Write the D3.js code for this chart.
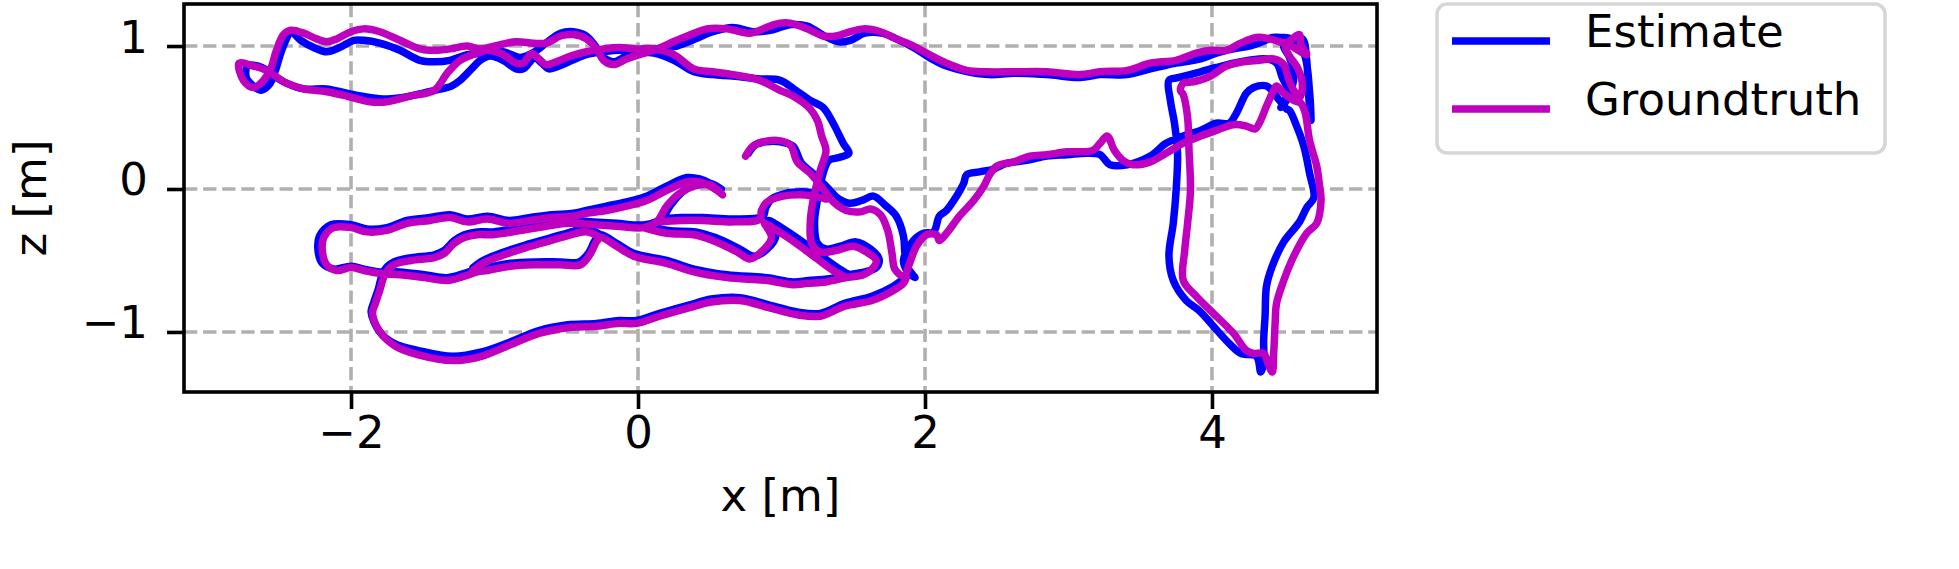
<!DOCTYPE html>
<html>

<head>
  <meta charset="utf-8">
  <title>trajectory x-z</title>
  <script src="https://cdn.jsdelivr.net/npm/d3@7/dist/d3.min.js"></script>
  <style>
    body {
      margin: 0;
      background: white;
    }

    text {
      font-family: "DejaVu Sans", sans-serif;
      font-size: 45px;
      fill: black;
    }

    .tick line {
      stroke: black;
      stroke-width: 3.6px;
    }

    .grid line {
      stroke: #b0b0b0;
      stroke-width: 3.6px;
      stroke-dasharray: 13.3 5.8;
    }

    path.traj {
      fill: none;
      stroke-width: 7.5px;
      stroke-linejoin: round;
      stroke-linecap: round;
    }
  </style>
</head>

<body>
  <svg id="chart"></svg>
  <script>
    // values, x and z in metres; null breaks a stroke
    var xTicks = [-2, 0, 2, 4];
    var zTicks = [-1, 0, 1];
    var seriesNames = ['Estimate', 'Groundtruth'];

    var estimate = [
      [0.77, 0.25], [0.82, 0.31], [0.89, 0.33], [0.99, 0.33], [1.08, 0.30], [1.14, 0.18], [1.23, 0.10],
      [1.32, 0.01], [1.40, -0.07], [1.48, -0.10], [1.56, -0.08], [1.64, -0.05], [1.73, -0.12], [1.80, -0.19],
      [1.85, -0.33], [1.86, -0.45], [1.88, -0.55], [1.93, -0.62], [1.88, -0.58], [1.85, -0.50],
      [1.92, -0.36], [1.99, -0.31], [2.06, -0.30], [2.10, -0.19], [2.15, -0.15], [2.22, -0.05], [2.27, 0.04],
      [2.29, 0.10], [2.38, 0.12], [2.48, 0.14], [2.57, 0.18], [2.71, 0.20], [2.85, 0.23], [2.99, 0.24],
      [3.13, 0.25], [3.22, 0.24], [3.29, 0.17], [3.41, 0.17], [3.57, 0.23], [3.68, 0.32], [3.80, 0.37],
      [3.92, 0.41], [4.03, 0.46], [4.12, 0.46], [4.17, 0.53], [4.24, 0.67], [4.29, 0.71], [4.38, 0.72],
      [4.47, 0.62], [4.52, 0.56],
      [4.54, 0.55], [4.59, 0.44], [4.64, 0.30], [4.68, 0.11], [4.71, -0.06], [4.66, -0.13], [4.61, -0.23],
      [4.50, -0.37], [4.42, -0.54], [4.38, -0.68], [4.37, -0.89], [4.36, -1.06], [4.36, -1.22], [4.34, -1.28],
      [4.31, -1.17], [4.20, -1.15], [4.10, -1.06], [4.01, -0.96], [3.91, -0.85], [3.82, -0.78], [3.73, -0.64],
      [3.70, -0.47], [3.73, -0.24], [3.75, -0.01], [3.76, 0.25], [3.74, 0.45], [3.71, 0.62], [3.70, 0.76],
      [3.77, 0.78], [3.92, 0.82], [4.03, 0.85], [4.15, 0.88], [4.26, 0.90], [4.38, 0.91],
      [4.45, 0.88], [4.49, 0.78], [4.53, 0.68], [4.48, 0.57], [4.53, 0.64], [4.57, 0.78], [4.54, 0.92],
      [4.50, 1.00], [4.56, 1.05], [4.63, 1.05], [4.66, 0.90], [4.67, 0.70], [4.69, 0.48], [4.68, 0.68],
      [4.64, 0.95], [4.55, 1.05],
      [4.49, 1.06], [4.42, 1.06], [4.35, 1.03], [4.26, 1.00], [4.15, 0.98], [4.03, 0.95], [3.92, 0.91],
      [3.75, 0.88], [3.57, 0.84], [3.41, 0.80], [3.22, 0.80], [3.08, 0.78], [2.85, 0.80], [2.62, 0.81],
      [2.45, 0.80], [2.30, 0.82], [2.15, 0.86], [2.03, 0.92], [1.92, 0.99], [1.80, 1.05], [1.70, 1.09],
      [1.58, 1.09], [1.48, 1.04], [1.40, 1.03], [1.30, 1.07], [1.18, 1.14], [1.07, 1.15], [0.99, 1.13],
      [0.92, 1.11], [0.80, 1.10], [0.66, 1.13], [0.52, 1.10], [0.40, 1.05], [0.27, 1.00], [0.12, 0.98],
      [0.02, 0.96], [-0.08, 0.93], [-0.17, 0.89], [-0.24, 0.92], [-0.29, 0.99], [-0.36, 1.07], [-0.45, 1.10],
      [-0.54, 1.09], [-0.63, 1.03], [-0.72, 0.96], [-0.82, 0.92], [-0.94, 0.96], [-1.10, 0.95], [-1.19, 0.94],
      [-1.31, 0.90], [-1.42, 0.89], [-1.52, 0.90], [-1.66, 0.97], [-1.80, 1.02], [-1.91, 1.04], [-1.98, 1.04],
      [-2.08, 0.99], [-2.17, 0.96], [-2.26, 0.99], [-2.35, 1.04], [-2.42, 1.10], [-2.45, 1.05], [-2.49, 0.95],
      [-2.53, 0.82], [-2.57, 0.73], [-2.63, 0.69], [-2.68, 0.72], [-2.73, 0.78], [-2.72, 0.86],
      [-2.62, 0.85], [-2.55, 0.80], [-2.45, 0.74], [-2.33, 0.70], [-2.17, 0.70], [-2.03, 0.67], [-1.87, 0.64],
      [-1.75, 0.63], [-1.59, 0.65], [-1.42, 0.69], [-1.30, 0.72], [-1.24, 0.76], [-1.16, 0.84], [-1.10, 0.90],
      [-1.03, 0.93], [-0.94, 0.90], [-0.85, 0.84], [-0.80, 0.84], [-0.76, 0.88], [-0.72, 0.92], [-0.67, 0.88],
      [-0.62, 0.84], [-0.55, 0.86], [-0.46, 0.90], [-0.36, 0.94], [-0.24, 0.96], [-0.13, 0.97], [-0.01, 0.96],
      [0.11, 0.95], [0.25, 0.90], [0.39, 0.82], [0.52, 0.80], [0.66, 0.79], [0.85, 0.77], [0.99, 0.76],
      [1.10, 0.69], [1.20, 0.62], [1.29, 0.57], [1.36, 0.46], [1.43, 0.32], [1.47, 0.25],
      [1.40, 0.22], [1.33, 0.20], [1.29, 0.11], [1.25, -0.08], [1.23, -0.24], [1.25, -0.38], [1.31, -0.42],
      [1.41, -0.40], [1.52, -0.37], [1.62, -0.42], [1.68, -0.49], [1.66, -0.55], [1.58, -0.58], [1.46, -0.60],
      [1.32, -0.63], [1.19, -0.64], [1.08, -0.65], [0.90, -0.62], [0.62, -0.60], [0.39, -0.56], [0.20, -0.50],
      [-0.03, -0.45], [-0.15, -0.38], [-0.26, -0.32], [-0.30, -0.36], [-0.34, -0.44], [-0.41, -0.51],
      [-0.54, -0.51], [-0.71, -0.51], [-0.89, -0.52], [-1.05, -0.55], [-1.12, -0.56], [-1.21, -0.59],
      [-1.33, -0.62], [-1.49, -0.60], [-1.66, -0.58], [-1.80, -0.58], [-1.91, -0.56], [-2.00, -0.54],
      [-2.12, -0.56], [-2.20, -0.52], [-2.23, -0.43], [-2.22, -0.33], [-2.14, -0.25], [-2.00, -0.25],
      [-1.89, -0.28], [-1.75, -0.27], [-1.61, -0.22], [-1.45, -0.20], [-1.31, -0.18], [-1.19, -0.21],
      [-1.05, -0.19], [-0.90, -0.22], [-0.75, -0.20], [-0.60, -0.18], [-0.45, -0.17], [-0.36, -0.15],
      [-0.22, -0.12], [-0.08, -0.09], [0.06, -0.05], [0.20, 0.02], [0.34, 0.08], [0.43, 0.07], [0.52, 0.03],
      [0.58, 0.00], [0.50, 0.04], [0.40, 0.03], [0.31, -0.02], [0.23, -0.11], [0.16, -0.21], [0.05, -0.25],
      [-0.15, -0.24], [-0.31, -0.23], [-0.48, -0.22], [-0.64, -0.24], [-0.82, -0.27], [-1.01, -0.30],
      [-1.12, -0.30], [-1.21, -0.32], [-1.28, -0.36], [-1.35, -0.43], [-1.42, -0.46], [-1.58, -0.48],
      [-1.70, -0.51], [-1.77, -0.57], [-1.81, -0.70], [-1.84, -0.79], [-1.86, -0.86], [-1.80, -1.00],
      [-1.70, -1.08], [-1.53, -1.13], [-1.29, -1.17], [-1.09, -1.14], [-0.89, -1.07], [-0.69, -0.99],
      [-0.49, -0.95], [-0.29, -0.94], [-0.13, -0.92], [-0.01, -0.92], [0.15, -0.87], [0.36, -0.81],
      [0.51, -0.77], [0.71, -0.76], [0.91, -0.81], [1.11, -0.86], [1.27, -0.87], [1.44, -0.80], [1.63, -0.75],
      [1.78, -0.68], [1.86, -0.62], [1.90, -0.58],
      null,
      [0.05, -0.25], [0.21, -0.29], [0.40, -0.30], [0.54, -0.34], [0.71, -0.42], [0.81, -0.47], [0.90, -0.42],
      [0.96, -0.33], [0.93, -0.26], [0.91, -0.22], [1.03, -0.29], [1.16, -0.38], [1.28, -0.47], [1.39, -0.55],
      [1.47, -0.60],
      null,
      [0.16, -0.21], [0.30, -0.20], [0.45, -0.20], [0.67, -0.21], [0.87, -0.19], [0.89, -0.13], [0.93, -0.07],
      [1.03, -0.03], [1.15, -0.02], [1.24, -0.03], [1.33, -0.05],
      null,
      [-1.15, -0.55], [-1.08, -0.50], [-0.96, -0.45], [-0.78, -0.39], [-0.64, -0.35], [-0.50, -0.31],
      [-0.36, -0.28], [-0.26, -0.32]
    ];

    var groundtruth = [
      [0.75, 0.23], [0.80, 0.30], [0.87, 0.33], [0.97, 0.34], [1.06, 0.31], [1.11, 0.19], [1.20, 0.11],
      [1.29, 0.00], [1.36, -0.09], [1.45, -0.15], [1.55, -0.16], [1.62, -0.14], [1.69, -0.18], [1.74, -0.29],
      [1.77, -0.45], [1.79, -0.56], [1.85, -0.61],
      [1.90, -0.50], [1.94, -0.40], [2.01, -0.32], [2.08, -0.32], [2.10, -0.36], [2.15, -0.31], [2.24, -0.19],
      [2.34, -0.08], [2.41, 0.02], [2.45, 0.10], [2.50, 0.16], [2.62, 0.19], [2.73, 0.23], [2.85, 0.24],
      [2.99, 0.26], [3.17, 0.27], [3.22, 0.32], [3.27, 0.37], [3.32, 0.27], [3.38, 0.20], [3.45, 0.17],
      [3.57, 0.19], [3.68, 0.25], [3.80, 0.32], [3.92, 0.37], [4.03, 0.41], [4.15, 0.45], [4.24, 0.44],
      [4.30, 0.42], [4.33, 0.46], [4.38, 0.58], [4.43, 0.69], [4.45, 0.72], [4.50, 0.67], [4.57, 0.62],
      [4.62, 0.60],
      [4.65, 0.53], [4.68, 0.34], [4.73, 0.16], [4.75, 0.02], [4.76, -0.08], [4.73, -0.24], [4.66, -0.31],
      [4.57, -0.47], [4.50, -0.64], [4.45, -0.80], [4.44, -0.94], [4.43, -1.15], [4.42, -1.28], [4.39, -1.22],
      [4.36, -1.15], [4.29, -1.15], [4.24, -1.13], [4.15, -1.01], [4.01, -0.87], [3.89, -0.75], [3.80, -0.64],
      [3.81, -0.43], [3.83, -0.24], [3.85, -0.01], [3.84, 0.27], [3.83, 0.50], [3.80, 0.66], [3.78, 0.69],
      [3.80, 0.74], [3.87, 0.75], [3.99, 0.79], [4.10, 0.86], [4.22, 0.89], [4.33, 0.90], [4.43, 0.91],
      [4.50, 0.87], [4.53, 0.78], [4.57, 0.69], [4.61, 0.64], [4.63, 0.72], [4.60, 0.84], [4.54, 0.93],
      [4.51, 1.00], [4.55, 1.04], [4.61, 1.08], [4.62, 1.01], [4.66, 0.94], [4.60, 0.97], [4.52, 1.02],
      [4.47, 1.03], [4.40, 1.05], [4.31, 1.06], [4.20, 1.02], [4.10, 0.97], [3.99, 0.97], [3.89, 0.95],
      [3.75, 0.90], [3.57, 0.88], [3.41, 0.83], [3.22, 0.82], [3.08, 0.80], [2.85, 0.82], [2.62, 0.82],
      [2.43, 0.82], [2.29, 0.83], [2.15, 0.88], [2.03, 0.94], [1.92, 1.00], [1.80, 1.05], [1.69, 1.10],
      [1.57, 1.12], [1.48, 1.10], [1.38, 1.07], [1.29, 1.07], [1.18, 1.12], [1.06, 1.16], [0.99, 1.16],
      [0.92, 1.14], [0.78, 1.09], [0.62, 1.12], [0.48, 1.12], [0.39, 1.09], [0.27, 1.04], [0.11, 0.97],
      [0.01, 0.94], [-0.08, 0.91], [-0.17, 0.87], [-0.24, 0.90], [-0.29, 0.98], [-0.36, 1.05], [-0.45, 1.08],
      [-0.54, 1.07], [-0.64, 1.02], [-0.73, 1.02], [-0.85, 1.03], [-0.96, 1.01], [-1.10, 0.98], [-1.19, 1.00],
      [-1.31, 0.98], [-1.42, 0.97], [-1.52, 0.98], [-1.66, 1.04], [-1.80, 1.10], [-1.91, 1.12], [-2.00, 1.10],
      [-2.10, 1.05], [-2.17, 1.03], [-2.24, 1.05], [-2.33, 1.09], [-2.42, 1.11], [-2.47, 1.08], [-2.52, 0.97],
      [-2.56, 0.84], [-2.61, 0.76], [-2.68, 0.71], [-2.75, 0.76], [-2.78, 0.88],
      [-2.68, 0.86], [-2.59, 0.83], [-2.45, 0.74], [-2.33, 0.70], [-2.17, 0.68], [-2.03, 0.65], [-1.87, 0.61],
      [-1.75, 0.61], [-1.59, 0.65], [-1.42, 0.69], [-1.33, 0.81], [-1.24, 0.90], [-1.12, 0.95],
      [-1.05, 0.97], [-0.94, 0.94], [-0.85, 0.88], [-0.80, 0.88], [-0.76, 0.93], [-0.74, 0.95], [-0.69, 0.91],
      [-0.64, 0.87], [-0.57, 0.89], [-0.47, 0.93], [-0.36, 0.96], [-0.24, 0.98], [-0.13, 0.99], [-0.01, 0.98],
      [0.11, 0.98], [0.25, 0.94], [0.39, 0.84], [0.52, 0.82], [0.66, 0.80], [0.85, 0.76], [0.99, 0.69],
      [1.08, 0.65], [1.20, 0.56], [1.25, 0.48], [1.28, 0.37], [1.31, 0.27],
      [1.27, 0.13], [1.22, -0.08], [1.20, -0.24], [1.21, -0.38], [1.27, -0.44], [1.38, -0.43], [1.50, -0.40],
      [1.59, -0.44], [1.66, -0.50], [1.64, -0.55], [1.57, -0.60], [1.45, -0.62], [1.31, -0.65], [1.18, -0.66],
      [1.08, -0.67], [0.90, -0.64], [0.62, -0.62], [0.39, -0.58], [0.20, -0.52], [-0.03, -0.47], [-0.15, -0.40],
      [-0.26, -0.34], [-0.29, -0.37], [-0.33, -0.45], [-0.40, -0.53], [-0.54, -0.53], [-0.71, -0.53],
      [-0.89, -0.54], [-1.05, -0.57], [-1.12, -0.58], [-1.21, -0.61], [-1.33, -0.64], [-1.49, -0.62],
      [-1.66, -0.60], [-1.80, -0.59], [-1.91, -0.57], [-2.00, -0.55], [-2.10, -0.57], [-2.17, -0.53],
      [-2.20, -0.43], [-2.19, -0.34], [-2.12, -0.27], [-2.00, -0.27], [-1.89, -0.30], [-1.75, -0.29],
      [-1.61, -0.24], [-1.45, -0.22], [-1.31, -0.20], [-1.19, -0.23], [-1.05, -0.21], [-0.90, -0.24],
      [-0.75, -0.22], [-0.60, -0.20], [-0.45, -0.19], [-0.36, -0.17], [-0.22, -0.15], [-0.08, -0.12],
      [0.06, -0.08], [0.20, -0.01], [0.34, 0.05], [0.43, 0.05], [0.52, 0.01], [0.59, -0.04],
      [0.50, 0.03], [0.39, 0.02], [0.29, -0.03], [0.20, -0.12], [0.13, -0.23], [0.04, -0.27], [-0.15, -0.26],
      [-0.31, -0.25], [-0.48, -0.24], [-0.64, -0.26], [-0.82, -0.29], [-1.01, -0.32], [-1.12, -0.32],
      [-1.21, -0.34], [-1.28, -0.38], [-1.35, -0.45], [-1.42, -0.48], [-1.58, -0.50], [-1.70, -0.53],
      [-1.76, -0.59], [-1.80, -0.71], [-1.83, -0.80], [-1.85, -0.87], [-1.79, -1.01], [-1.69, -1.10],
      [-1.53, -1.16], [-1.29, -1.20], [-1.09, -1.17], [-0.89, -1.09], [-0.69, -1.01], [-0.49, -0.97],
      [-0.29, -0.96], [-0.13, -0.94], [-0.01, -0.94], [0.15, -0.89], [0.36, -0.83], [0.51, -0.79],
      [0.71, -0.78], [0.91, -0.83], [1.11, -0.88], [1.27, -0.89], [1.44, -0.82], [1.63, -0.78], [1.78, -0.71],
      [1.85, -0.66], [1.87, -0.62],
      null,
      [0.04, -0.27], [0.20, -0.31], [0.39, -0.32], [0.52, -0.36], [0.69, -0.44], [0.78, -0.49], [0.87, -0.43],
      [0.93, -0.34], [0.90, -0.27], [0.88, -0.24], [1.00, -0.31], [1.13, -0.40], [1.25, -0.49], [1.36, -0.57],
      [1.45, -0.62],
      null,
      [0.13, -0.23], [0.30, -0.22], [0.45, -0.22], [0.67, -0.23], [0.85, -0.21], [0.86, -0.15], [0.90, -0.09],
      [1.01, -0.05], [1.13, -0.04], [1.22, -0.05], [1.31, -0.07],
      null,
      [-1.15, -0.57], [-1.08, -0.52], [-0.96, -0.47], [-0.78, -0.41], [-0.64, -0.37], [-0.50, -0.33],
      [-0.36, -0.30], [-0.26, -0.34]
    ];

    var colors = ['#0000ff', '#bf00bf'];

    var W = 1959, H = 569;
    var plot = { left: 184, right: 1377, top: 4, bottom: 392 };

    var x = d3.scaleLinear()
      .domain([-3.164, 5.150])
      .range([plot.left, plot.right]);

    var y = d3.scaleLinear()
      .domain([-1.420, 1.294])
      .range([plot.bottom, plot.top]);

    var svg = d3.select('#chart')
      .attr('width', W)
      .attr('height', H);

    svg.append('rect')
      .attr('width', W)
      .attr('height', H)
      .style('fill', 'white');

    svg.append('clipPath')
      .attr('id', 'clip')
      .append('rect')
      .attr('x', plot.left)
      .attr('y', plot.top)
      .attr('width', plot.right - plot.left)
      .attr('height', plot.bottom - plot.top);

    // grid
    var grid = svg.append('g').attr('class', 'grid');
    grid.selectAll('line.gx')
      .data(xTicks)
      .enter()
      .append('line')
      .attr('x1', d => x(d)).attr('x2', d => x(d))
      .attr('y1', plot.top).attr('y2', plot.bottom);
    grid.selectAll('line.gy')
      .data(zTicks)
      .enter()
      .append('line')
      .attr('class', 'gy')
      .attr('y1', d => y(d)).attr('y2', d => y(d))
      .attr('x1', plot.left).attr('x2', plot.right);

    var line = d3.line()
      .defined(d => d !== null)
      .x(d => x(d[0]))
      .y(d => y(d[1]))
      .curve(d3.curveCatmullRom.alpha(0.5));

    var traj = svg.append('g').attr('clip-path', 'url(#clip)');
    [estimate, groundtruth].forEach(function (pts, i) {
      traj.append('path')
        .attr('class', 'traj')
        .attr('d', line(pts))
        .style('stroke', colors[i]);
    });

    var fmt = d => d < 0 ? '\u2212' + Math.abs(d) : String(d);

    var xAxis = d3.axisBottom(x)
      .tickValues(xTicks)
      .tickFormat(fmt)
      .tickSize(17);

    var yAxis = d3.axisLeft(y)
      .tickValues(zTicks)
      .tickFormat(fmt)
      .tickSize(17);

    var gx = svg.append('g')
      .attr('transform', 'translate(0,' + plot.bottom + ')')
      .call(xAxis);
    gx.select('.domain').remove();
    gx.selectAll('.tick text')
      .attr('y', 56)
      .attr('dy', 0)
      .style('font-size', '45px')
      .style('font-family', '"DejaVu Sans", sans-serif');

    var gy = svg.append('g')
      .attr('transform', 'translate(' + plot.left + ',0)')
      .call(yAxis);
    gy.select('.domain').remove();
    gy.selectAll('.tick text')
      .attr('x', -36)
      .attr('y', 6)
      .attr('dy', 0)
      .style('font-size', '45px')
      .style('font-family', '"DejaVu Sans", sans-serif');

    // spines
    svg.append('rect')
      .attr('x', plot.left)
      .attr('y', plot.top)
      .attr('width', plot.right - plot.left)
      .attr('height', plot.bottom - plot.top)
      .style('fill', 'none')
      .style('stroke', 'black')
      .style('stroke-width', 3.6);

    svg.append('text')
      .attr('x', (plot.left + plot.right) / 2)
      .attr('y', 511)
      .attr('text-anchor', 'middle')
      .text('x [m]');

    svg.append('text')
      .attr('transform', 'translate(46,' + (plot.top + plot.bottom) / 2 + ') rotate(-90)')
      .attr('text-anchor', 'middle')
      .text('z [m]');

    // legend
    var legend = svg.append('g');
    legend.append('rect')
      .attr('x', 1437)
      .attr('y', 4)
      .attr('width', 448)
      .attr('height', 149)
      .attr('rx', 10)
      .style('fill', 'white')
      .style('stroke', '#d6d6d6')
      .style('stroke-width', 3.6);

    var items = legend.selectAll('g.item')
      .data(seriesNames)
      .enter()
      .append('g')
      .attr('transform', (d, i) => 'translate(0,' + (41 + i * 68) + ')');

    items.append('line')
      .attr('x1', 1452)
      .attr('x2', 1550)
      .style('stroke', (d, i) => colors[i])
      .style('stroke-width', 7.5);

    items.append('text')
      .attr('x', 1585)
      .attr('y', 6)
      .text(d => d);
  </script>
</body>

</html>
